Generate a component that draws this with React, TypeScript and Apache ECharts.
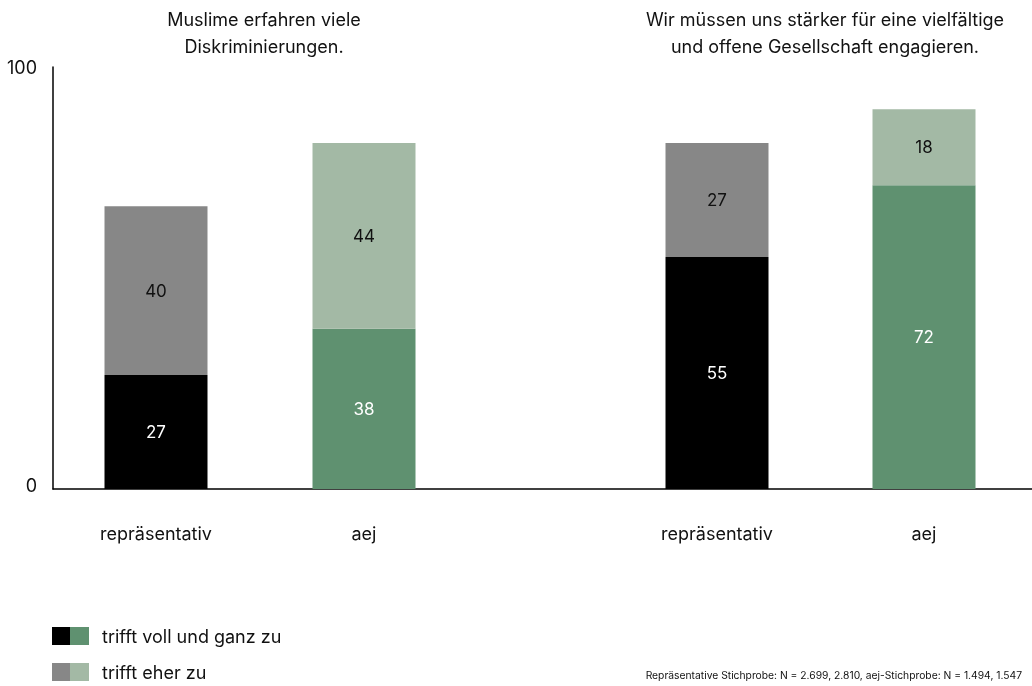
import React, { useEffect, useRef } from "react";
import * as echarts from "echarts";

const categories = ["repräsentativ", "aej"];
const titles = [
  "Muslime erfahren viele\nDiskriminierungen.",
  "Wir müssen uns stärker für eine vielfältige\nund offene Gesellschaft engagieren.",
];
const q1Voll = [27, 38];
const q1Eher = [40, 44];
const q2Voll = [55, 72];
const q2Eher = [27, 18];
const legendLabels = ["trifft voll und ganz zu", "trifft eher zu"];
const yTicks = [0, 100];
const footnote =
  "Repräsentative Stichprobe: N = 2.699, 2.810, aej-Stichprobe: N = 1.494, 1.547";

const vollColors = ["#000000", "#5f9170"];
const eherColors = ["#878787", "#a3b9a5"];
const vollLabelColors = ["#ffffff", "#ffffff"];
const eherLabelColors = ["#111111", "#111111"];

const FONT = "Inter, 'Noto Sans', sans-serif";
const FS = 18;

function mkData(vals: number[], colors: string[], labelColors: string[]) {
  return vals.map((v, i) => ({
    value: v,
    itemStyle: { color: colors[i] },
    label: { color: labelColors[i] },
  }));
}

export default function App() {
  const ref = useRef<HTMLDivElement>(null);
  useEffect(() => {
    if (!ref.current) return;
    const chart = echarts.init(ref.current, null, { renderer: "svg" });
    const top = 67;
    const bottom = 686 - 489;
    const barCommon = {
      type: "bar",
      barWidth: 103,
      label: {
        show: true,
        position: "inside",
        fontSize: 17,
        fontFamily: FONT,
      },
    };
    const yCommon = {
      type: "value",
      min: yTicks[0],
      max: yTicks[yTicks.length - 1],
      interval: 100,
      show: false,
    };
    const xCat = (gi: number) => ({
      type: "category",
      gridIndex: gi,
      data: categories,
      axisLine: { show: false },
      axisTick: { show: false },
      axisLabel: {
        margin: 35,
        fontSize: FS,
        color: "#111",
        fontFamily: FONT,
      },
    });
    chart.setOption({
      animation: false,
      textStyle: { fontFamily: FONT },
      title: titles.map((t, i) => ({
        text: t,
        left: i === 0 ? 259 : 820,
        top: 1,
        textAlign: "center",
        textStyle: {
          fontSize: FS,
          fontWeight: "normal",
          color: "#111",
          lineHeight: 27,
          fontFamily: FONT,
        },
      })),
      grid: [
        { left: 53, right: 0, top, bottom },
        { left: 52, width: 416, top, bottom },
        { left: 613.5, width: 414, top, bottom },
      ],
      xAxis: [
        {
          type: "value",
          gridIndex: 0,
          min: 0,
          max: 1,
          axisLine: { show: true, lineStyle: { color: "#000", width: 1.5 } },
          axisTick: { show: false },
          axisLabel: { show: false },
          splitLine: { show: false },
        },
        xCat(1),
        xCat(2),
      ],
      yAxis: [
        {
          type: "value",
          gridIndex: 0,
          min: yTicks[0],
          max: yTicks[yTicks.length - 1],
          interval: 100,
          axisLine: { show: true, lineStyle: { color: "#000", width: 1.5 } },
          axisTick: { show: false },
          splitLine: { show: false },
          axisLabel: {
            margin: 16,
            fontSize: FS,
            color: "#111",
            fontFamily: FONT,
            formatter: (v: number) => (v === 0 ? "{z|0}" : String(v)),
            rich: {
              z: { fontSize: FS, color: "#111", fontFamily: FONT, padding: [0, 0, 8, 0] },
            },
          },
        },
        { ...yCommon, gridIndex: 1 },
        { ...yCommon, gridIndex: 2 },
      ],
      series: [
        {
          ...barCommon,
          name: legendLabels[0],
          xAxisIndex: 1,
          yAxisIndex: 1,
          stack: "q1",
          data: mkData(q1Voll, vollColors, vollLabelColors),
        },
        {
          ...barCommon,
          name: legendLabels[1],
          xAxisIndex: 1,
          yAxisIndex: 1,
          stack: "q1",
          data: mkData(q1Eher, eherColors, eherLabelColors),
        },
        {
          ...barCommon,
          name: legendLabels[0],
          xAxisIndex: 2,
          yAxisIndex: 2,
          stack: "q2",
          data: mkData(q2Voll, vollColors, vollLabelColors),
        },
        {
          ...barCommon,
          name: legendLabels[1],
          xAxisIndex: 2,
          yAxisIndex: 2,
          stack: "q2",
          data: mkData(q2Eher, eherColors, eherLabelColors),
        },
      ],
      graphic: [
        ...legendLabels.flatMap((lab, i) => {
          const y = 627 + i * 36;
          return [
            { type: "rect", left: 52, top: y, shape: { width: 18, height: 18 }, style: { fill: i === 0 ? vollColors[0] : eherColors[0] } },
            { type: "rect", left: 70, top: y, shape: { width: 19, height: 18 }, style: { fill: i === 0 ? vollColors[1] : eherColors[1] } },
            {
              type: "text",
              left: 102,
              top: y - 1,
              style: {
                text: lab,
                fontSize: FS,
                fill: "#111",
                fontFamily: FONT,
                lineHeight: 20,
              },
            },
          ];
        }),
        {
          type: "text",
          right: 10,
          top: 670,
          style: {
            text: footnote,
            fontSize: 10.3,
            fill: "#111",
            fontFamily: "'Liberation Sans Narrow', Inter, sans-serif",
          },
        },
      ],
    });
    return () => chart.dispose();
  }, []);
  return <div ref={ref} style={{ width: 1032, height: 686, position: "fixed", left: 0, top: 0 }} />;
}
